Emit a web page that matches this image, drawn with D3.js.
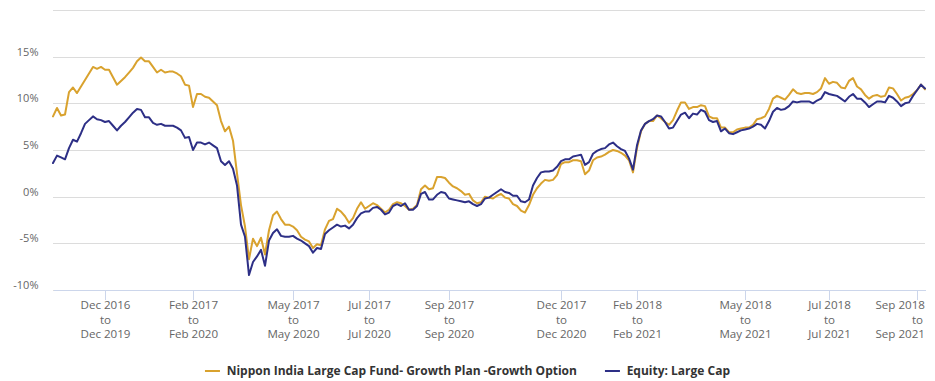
<!DOCTYPE html>
<html>
<head>
<meta charset="utf-8">
<script src="https://cdn.jsdelivr.net/npm/d3@7"></script>
<style>
  html, body { margin: 0; padding: 0; background: #fff; }
  svg { display: block; font-family: "Open Sans", sans-serif; }
</style>
</head>
<body>
<svg id="chart" width="935" height="381"></svg>
<script>
// ---- data (rolling 3-year returns, %) ----
const seriesNames = ["Nippon India Large Cap Fund- Growth Plan -Growth Option", "Equity: Large Cap"];
const seriesColors = ["#d9a22e", "#2d2f86"];

const fundValues = [8.6,9.5,8.7,8.8,11.2,11.7,11.1,11.8,12.5,13.2,
13.9,13.7,13.9,13.6,13.6,12.8,12.0,12.4,12.8,13.3,
13.8,14.5,14.9,14.5,14.5,13.9,13.3,13.6,13.3,13.4,
13.4,13.2,12.9,12.0,11.9,9.6,11.0,11.0,10.7,10.6,
10.2,9.8,8.1,7.0,7.5,6.0,2.5,-0.9,-3.2,-6.7,
-4.5,-5.3,-4.4,-6.2,-3.6,-2.0,-1.6,-2.4,-3.0,-3.0,
-3.2,-3.6,-4.3,-4.6,-4.8,-5.5,-5.1,-5.2,-3.5,-2.6,
-2.4,-1.3,-1.6,-2.1,-2.8,-2.3,-1.3,-0.6,-1.3,-1.0,
-0.7,-0.9,-1.3,-1.7,-1.4,-0.8,-0.6,-0.7,-1.0,-1.4,
-1.3,-0.9,0.8,1.2,0.8,0.9,2.1,2.1,2.0,1.5,
1.1,0.9,0.6,0.2,0.3,-0.4,-0.7,-0.6,0.0,-0.1,
-0.2,0.1,0.3,-0.1,-0.2,-0.8,-1.0,-1.5,-1.7,-0.9,
0.2,0.9,1.4,1.8,1.7,1.8,2.3,3.5,3.7,3.7,
3.9,3.9,3.8,2.4,2.8,3.9,4.2,4.3,4.5,4.8,
5.0,4.9,4.7,4.4,3.9,2.6,5.2,7.0,7.8,8.1,
8.1,8.7,8.4,8.0,7.7,8.2,9.2,10.1,10.1,9.4,
9.6,9.6,9.8,9.7,8.6,8.4,8.4,7.4,7.4,6.9,
6.9,7.2,7.3,7.4,7.4,7.7,8.3,8.4,8.6,9.4,
10.5,10.8,10.6,10.4,10.9,11.5,11.1,11.0,11.1,11.1,
11.0,11.2,11.6,12.7,12.1,12.3,12.2,11.7,11.6,12.4,
12.7,11.8,11.5,10.9,10.5,10.8,10.9,10.7,10.8,11.7,
11.6,11.0,10.3,10.6,10.7,11.0,11.4,12.0,11.5];

const categoryValues = [3.6,4.4,4.2,4.0,5.2,6.1,5.9,6.8,7.8,8.2,
8.6,8.3,8.2,8.0,8.1,7.6,7.1,7.6,8.0,8.5,
9.0,9.4,9.3,8.5,8.5,7.9,7.7,7.8,7.6,7.6,
7.6,7.4,7.1,6.3,6.4,5.0,5.8,5.8,5.6,5.8,
5.5,5.2,3.8,3.4,3.8,3.0,1.2,-3.0,-4.3,-8.4,
-7.0,-6.4,-5.7,-7.4,-4.7,-3.9,-3.5,-4.2,-4.3,-4.3,
-4.2,-4.5,-4.7,-5.0,-5.3,-6.0,-5.5,-5.6,-4.0,-3.6,
-3.3,-3.0,-3.2,-3.1,-3.4,-3.0,-2.3,-1.8,-1.6,-1.6,
-1.2,-1.1,-1.4,-1.9,-1.7,-1.0,-0.8,-1.0,-0.7,-1.4,
-1.4,-1.0,0.3,0.5,-0.3,-0.3,0.2,0.5,0.4,-0.2,
-0.3,-0.4,-0.5,-0.6,-0.5,-0.8,-1.0,-0.8,-0.2,-0.1,
0.2,0.5,0.8,0.5,0.4,0.1,0.1,-0.5,-0.6,-0.3,
1.2,2.0,2.6,2.7,2.7,2.8,3.2,3.8,4.0,4.0,
4.3,4.4,4.5,3.4,3.7,4.6,4.9,5.1,5.2,5.6,
5.8,5.4,5.1,4.9,4.1,2.9,5.5,7.1,7.8,8.1,
8.3,8.7,8.6,8.0,7.3,7.4,8.1,8.8,9.0,8.4,
8.9,8.8,9.3,9.1,8.2,8.0,8.1,7.0,7.3,6.8,
6.7,6.9,7.1,7.2,7.3,7.5,7.8,7.7,7.3,8.1,
9.1,9.5,9.3,9.4,9.7,10.2,10.1,10.2,10.2,10.2,
10.0,10.3,10.5,11.2,11.0,10.9,10.8,10.5,10.2,10.7,
11.0,10.5,10.5,10.1,9.6,9.9,10.2,10.2,10.1,10.8,
10.6,10.2,9.7,10.0,10.1,10.8,11.4,12.0,11.6];

const tickIndex = [13, 35, 60, 79, 99, 127, 146, 173, 194, 216];
const tickLabels = [
  ["Dec 2016", "to", "Dec 2019"],
  ["Feb 2017", "to", "Feb 2020"],
  ["May 2017", "to", "May 2020"],
  ["Jul 2017", "to", "Jul 2020"],
  ["Sep 2017", "to", "Sep 2020"],
  ["Dec 2017", "to", "Dec 2020"],
  ["Feb 2018", "to", "Feb 2021"],
  ["May 2018", "to", "May 2021"],
  ["Jul 2018", "to", "Jul 2021"],
  ["Sep 2018", "to", "Sep 2021"]
];
const yTicks = [-10, -5, 0, 5, 10, 15, 20];

// ---- layout ----
const svg = d3.select("#chart");
const plotLeft = 53, plotRight = 925, plotTop = 10, plotBottom = 290;

const x = d3.scaleLinear().domain([0, fundValues.length - 1]).range([plotLeft, plotRight]);
const y = d3.scaleLinear().domain([-10, 20]).range([plotBottom, plotTop]);

// y grid + labels
const yAxis = d3.axisLeft(y)
  .tickValues(yTicks)
  .tickSize(-(plotRight - plotLeft))
  .tickPadding(14.5)
  .tickFormat(d => d === 20 ? "" : d + "%");
const gy = svg.append("g").attr("transform", `translate(${plotLeft},0)`).call(yAxis);
gy.select(".domain").remove();
gy.selectAll(".tick line").attr("stroke", "#dcdcdc").attr("stroke-width", 1)
  .attr("shape-rendering", "crispEdges");
gy.selectAll(".tick text").attr("fill", "#666").attr("font-size", "11px")
  .attr("font-family", "Open Sans, sans-serif").attr("y", -5);

// x axis
const xAxis = d3.axisBottom(x)
  .tickValues(tickIndex)
  .tickSize(10)
  .tickSizeOuter(0)
  .tickFormat("");
const gx = svg.append("g").attr("transform", `translate(0,${plotBottom})`).call(xAxis);
gx.select(".domain").attr("stroke", "#ccd6eb").attr("shape-rendering", "crispEdges");
gx.selectAll(".tick line").attr("stroke", "#ccd6eb").attr("shape-rendering", "crispEdges");
gx.selectAll(".tick").each(function(d, i) {
  const t = d3.select(this).append("text")
    .attr("fill", "#666").attr("font-size", "11.6px")
    .attr("font-family", "Open Sans, sans-serif")
    .attr("text-anchor", "middle");
  tickLabels[i].forEach((line, k) => {
    t.append("tspan").attr("x", 0).attr("y", 19 + k * 14.7).text(line);
  });
});
// keep last label inside chart
gx.selectAll(".tick").each(function(d) {
  const tx = x(d);
  d3.select(this).selectAll("tspan").each(function() {
    const w = this.getComputedTextLength();
    const rightEdge = tx + w / 2;
    if (rightEdge > 924.5) d3.select(this).attr("x", -(rightEdge - 924.5));
  });
});

// lines
const line = d3.line().x((d, i) => x(i)).y(d => y(d));
[fundValues, categoryValues].forEach((vals, s) => {
  svg.append("path").datum(vals)
    .attr("fill", "none")
    .attr("stroke", seriesColors[s])
    .attr("stroke-width", 2)
    .attr("stroke-linejoin", "round")
    .attr("stroke-linecap", "round")
    .attr("d", line);
});

// legend
const legend = svg.append("g");
const items = [];
let cursor = 0;
seriesNames.forEach((name, s) => {
  const g = legend.append("g");
  g.append("line").attr("x1", 0).attr("x2", 15).attr("y1", 0).attr("y2", 0)
    .attr("stroke", seriesColors[s]).attr("stroke-width", 2);
  const txt = g.append("text").attr("x", 21.7).attr("y", 4.3)
    .attr("font-size", "12px").attr("font-weight", "bold")
    .attr("fill", "#333").attr("font-family", "Open Sans, sans-serif").text(name);
  const w = 21.7 + txt.node().getComputedTextLength();
  items.push({g, x: cursor});
  cursor += w + 28;
});
const total = cursor - 28;
const startX = 467.5 - total / 2;
items.forEach(it => it.g.attr("transform", `translate(${startX + it.x},371)`));
</script>
</body>
</html>
